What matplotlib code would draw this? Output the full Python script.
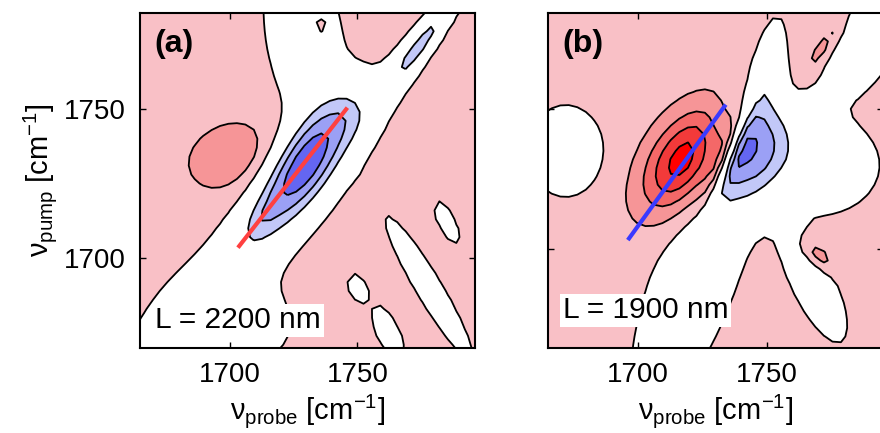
import numpy as np
import matplotlib.pyplot as plt

plt.rcParams['font.family'] = ['Liberation Sans', 'DejaVu Sans']
plt.rcParams['mathtext.fontset'] = 'custom'
plt.rcParams['mathtext.rm'] = 'Liberation Sans'
plt.rcParams['mathtext.it'] = 'Liberation Sans:italic'
plt.rcParams['mathtext.bf'] = 'Liberation Sans:bold'

# contour levels (arb. units) and their fill colours
levels = [-10, -4, -3, -2, -1, 1, 2, 3, 4, 5, 10]
fill_colors = ['#3030ee', '#6466f1', '#9ba0f5', '#c2c8f8', '#ffffff',
               '#f9c0c6', '#f69597', '#f46868', '#f23a3a', '#ff0000']
base_level = 1.5   # weak positive background

# ---- panel (a), L = 2200 nm ----
a_probe = np.arange(1660, 1800, 3.3)
a_pump = np.arange(1665, 1787, 3.0)
# signed peaks: centre, amplitude, widths along / across, angle
a_peak_x   = [1729.5, 1712, 1700, 1776, 1734.6]
a_peak_y   = [1732, 1713, 1734, 1773, 1777.7]
a_peak_amp = [-4.6, -0.8, 1.25, -1.9, 1.4]
a_peak_su  = [17.5, 7, 12, 13, 2.0]
a_peak_sv  = [7.3, 3.5, 8, 2.2, 1.8]
a_peak_ang = [50, 50, 15, 48, 0]
# regions where the background drops to ~0 (white bands / islands)
a_hole_x   = [1695, 1700, 1729, 1768, 1747, 1778, 1785, 1750, 1762]
a_hole_y   = [1690, 1678, 1775, 1764, 1747, 1690, 1712, 1690, 1675]
a_hole_su  = [50, 16, 22, 20, 7, 20, 5.4, 3.5, 7]
a_hole_sv  = [9, 10, 10, 3.8, 6, 3.2, 2.0, 2.2, 2.8]
a_hole_ang = [45, 0, 100, 50, 45, -55, -60, -60, -60]
a_line_x = [1703.3, 1746.1]
a_line_y = [1703.5, 1750.4]
a_xlim, a_ylim = (1665, 1796), (1670, 1782)

# ---- panel (b), L = 1900 nm ----
b_probe = np.arange(1660, 1800, 3.3)
b_pump = np.arange(1660, 1790, 3.0)
b_peak_x   = [1718, 1745, 1732.8, 1738.5, 1772, 1769.5, 1788]
b_peak_y   = [1732, 1735, 1734.7, 1732.2, 1772, 1698, 1784]
b_peak_amp = [4.2, -3.6, 2.0, -1.3, 1.2, 1.6, -1.6]
b_peak_su  = [14.5, 14, 12, 12, 10, 5, 4]
b_peak_sv  = [8.5, 9, 2.8, 2.8, 2.2, 2.6, 2.5]
b_peak_ang = [52, 62, 66, 66, 52, -40, 45]
b_hole_x   = [1722, 1770, 1787, 1750, 1768, 1672]
b_hole_y   = [1690, 1730, 1772, 1762, 1688, 1735]
b_hole_su  = [35, 16, 14, 14, 16, 10]
b_hole_sv  = [11, 12, 8, 4, 5.5, 11]
b_hole_ang = [68, 0, 55, 78, -62, 0]
b_line_x = [1696.1, 1734.1]
b_line_y = [1703.3, 1751.5]
b_xlim, b_ylim = (1665, 1795), (1665, 1784)

ticks = [1700, 1750]


def blob(X, Y, cx, cy, su, sv, ang):
    t = np.deg2rad(ang)
    dx, dy = X - cx, Y - cy
    u = dx * np.cos(t) + dy * np.sin(t)
    v = -dx * np.sin(t) + dy * np.cos(t)
    return np.exp(-0.5 * ((u / su) ** 2 + (v / sv) ** 2))


def spectrum(probe, pump, holes, peaks):
    X, Y = np.meshgrid(probe, pump)
    Z = np.full(X.shape, base_level)
    for cx, cy, su, sv, ang in zip(*holes):
        Z = Z * (1 - blob(X, Y, cx, cy, su, sv, ang))
    for cx, cy, amp, su, sv, ang in zip(*peaks):
        Z = Z + amp * blob(X, Y, cx, cy, su, sv, ang)
    return X, Y, np.clip(Z, -9.9, 9.9)


fig = plt.figure(figsize=(8.8, 4.33), dpi=100)
bottom = (433 - 347.7) / 433
height = 334.4 / 433
ax_a = fig.add_axes([140 / 880, bottom, 335 / 880, height])
ax_b = fig.add_axes([547.7 / 880, bottom, 335 / 880, height])

panels = [
    (ax_a, a_probe, a_pump,
     (a_hole_x, a_hole_y, a_hole_su, a_hole_sv, a_hole_ang),
     (a_peak_x, a_peak_y, a_peak_amp, a_peak_su, a_peak_sv, a_peak_ang),
     a_line_x, a_line_y, '#ff4040', a_xlim, a_ylim, '(a)', 'L = 2200 nm', 0.058),
    (ax_b, b_probe, b_pump,
     (b_hole_x, b_hole_y, b_hole_su, b_hole_sv, b_hole_ang),
     (b_peak_x, b_peak_y, b_peak_amp, b_peak_su, b_peak_sv, b_peak_ang),
     b_line_x, b_line_y, '#3a3aff', b_xlim, b_ylim, '(b)', 'L = 1900 nm', 0.088),
]

for ax, probe, pump, holes, peaks, lx, ly, lc, xlim, ylim, tag, note, ny in panels:
    X, Y, Z = spectrum(probe, pump, holes, peaks)
    ax.contourf(X, Y, Z, levels=levels, colors=fill_colors)
    ax.contour(X, Y, Z, levels=levels[1:-1], colors='k', linewidths=1.3,
               negative_linestyles='solid')
    ax.plot(lx, ly, color=lc, lw=3, solid_capstyle='butt')
    ax.set_xlim(xlim)
    ax.set_ylim(ylim)
    ax.set_xticks(ticks)
    ax.set_yticks(ticks)
    ax.tick_params(direction='in', top=True, right=True, length=4, width=1,
                   labelsize=20, pad=10)
    for s in ax.spines.values():
        s.set_linewidth(1.5)
    ax.text(0.044, 0.885, tag, transform=ax.transAxes, fontsize=23,
            fontweight='bold')
    ax.text(0.045, ny, note, transform=ax.transAxes, fontsize=21.5,
            bbox=dict(facecolor='white', edgecolor='none', pad=2))
    ax.set_xlabel('ν$_{\\mathrm{probe}}$ [cm$^{-1}$]', fontsize=21, labelpad=3)

ax_a.set_ylabel('ν$_{\\mathrm{pump}}$ [cm$^{-1}$]', fontsize=21, labelpad=4)
ax_b.set_yticklabels([])

fig.savefig('out.png', dpi=100)
